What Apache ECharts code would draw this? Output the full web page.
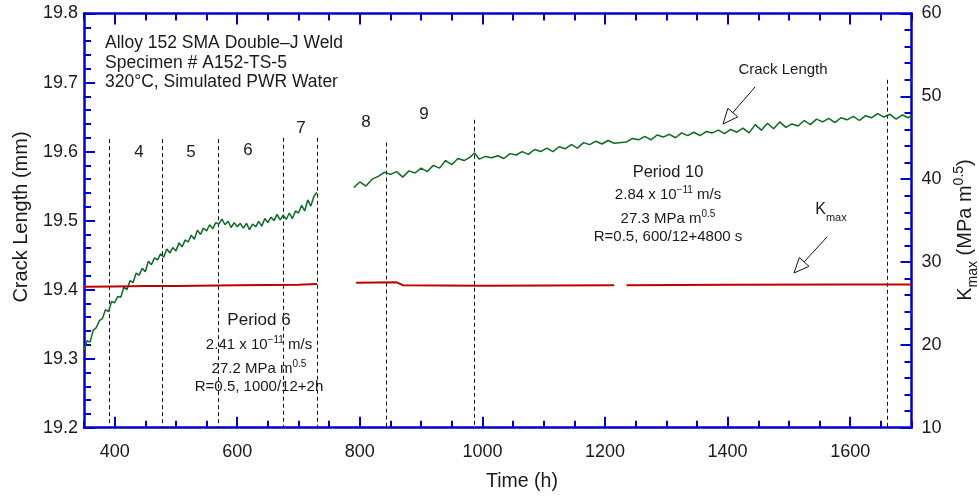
<!DOCTYPE html>
<html><head><meta charset="utf-8">
<script src="https://cdn.jsdelivr.net/npm/echarts@6/dist/echarts.min.js"></script>
<style>html,body{margin:0;padding:0;background:#fff}#c{width:979px;height:497px}</style>
</head><body><div id="c"></div><script>
// ---------- data ----------
const crackTime1 = [350,355,360,365,370,375,380,385,390,395,400,405,410,415,420,425,430,435,440,445,450,455,460,465,470,475,480,485,490,495,500,505,510,515,520,525,530,535,540,545,550,555,560,565,570,575,580,585,590,595,600,605,610,615,620,625,630,635,640,645,650,655,660,665,670,675,680,685,690,695,700,705,710,715,720,725,730];
const crackLen1 = [19.312,19.326,19.324,19.341,19.345,19.355,19.358,19.371,19.368,19.383,19.381,19.390,19.389,19.404,19.400,19.413,19.410,19.424,19.421,19.431,19.426,19.441,19.436,19.446,19.443,19.452,19.447,19.459,19.453,19.461,19.456,19.468,19.462,19.472,19.469,19.479,19.473,19.486,19.480,19.489,19.485,19.494,19.488,19.497,19.495,19.502,19.494,19.499,19.490,19.497,19.491,19.496,19.489,19.496,19.487,19.495,19.491,19.499,19.492,19.503,19.497,19.505,19.500,19.509,19.501,19.508,19.502,19.511,19.503,19.514,19.511,19.522,19.514,19.530,19.521,19.535,19.541];
const crackTime2 = [790,800,810,820,830,840,850,860,870,880,890,900,910,920,930,940,950,960,970,980,987,995,1005,1015,1025,1035,1045,1055,1065,1075,1085,1095,1105,1115,1125,1135,1145,1155,1165,1175,1185,1195,1205,1215,1235,1245,1255,1265,1275,1285,1295,1305,1315,1325,1335,1345,1355,1365,1375,1385,1395,1405,1415,1425,1435,1445,1455,1465,1475,1485,1495,1505,1515,1525,1535,1545,1555,1565,1575,1585,1595,1605,1615,1625,1635,1645,1655,1665,1675,1685,1695,1700];
const crackLen2 = [19.548,19.556,19.550,19.560,19.564,19.570,19.567,19.571,19.563,19.572,19.569,19.576,19.571,19.580,19.576,19.587,19.581,19.590,19.587,19.592,19.598,19.589,19.593,19.591,19.594,19.590,19.597,19.595,19.600,19.596,19.603,19.600,19.605,19.600,19.607,19.604,19.610,19.605,19.613,19.610,19.615,19.611,19.616,19.612,19.614,19.619,19.617,19.622,19.617,19.624,19.621,19.625,19.620,19.627,19.623,19.628,19.623,19.629,19.627,19.631,19.626,19.632,19.628,19.634,19.627,19.639,19.631,19.641,19.633,19.643,19.635,19.640,19.637,19.645,19.639,19.647,19.643,19.648,19.642,19.649,19.646,19.651,19.645,19.652,19.649,19.655,19.650,19.654,19.647,19.653,19.649,19.652];
const kmaxTime1 = [350,400,450,500,600,700,730];
const kmaxVal1  = [27.0,27.05,27.1,27.1,27.2,27.25,27.35];
const kmaxTime2 = [794,860,870,1000,1215];
const kmaxVal2  = [27.5,27.55,27.2,27.15,27.2];
const kmaxTime3 = [1235,1400,1600,1700];
const kmaxVal3  = [27.2,27.25,27.3,27.3];
// period boundary lines: time and top (crack length, mm)
const periodTimes = [391,477,569,675,730,843,986,1661];
const periodTops  = [19.618,19.618,19.618,19.62,19.62,19.613,19.646,19.704];
const xMajorTicks = [400,600,800,1000,1200,1400,1600];

// ---------- build ----------
const zip = (t, v) => t.map((x, i) => [x, v[i]]);
const crackData = zip(crackTime1, crackLen1).concat([[760, null]], zip(crackTime2, crackLen2));
const kmaxData = zip(kmaxTime1, kmaxVal1).concat([[760, null]], zip(kmaxTime2, kmaxVal2), [[1225, null]], zip(kmaxTime3, kmaxVal3));
const periodLines = periodTimes.map((t, i) => [{coord: [t, periodTops[i]]}, {coord: [t, 19.2]}]);

const BLUE = '#0000cc';
const TXT = '#1a1a1a';
const FONT = "'Liberation Sans', Arial, Helvetica, sans-serif";

function text(x, y, str, size, align, rich, rot) {
  const st = {text: str, fontSize: size, fontFamily: FONT, fill: TXT,
              align: align || 'center', verticalAlign: 'middle',
              textAlign: align || 'center', textVerticalAlign: 'middle'};
  if (rich) st.rich = rich;
  const el = {type: 'text', x: x, y: y, style: st, silent: true, z: 100};
  if (rot) el.rotation = rot;
  return el;
}
function richSet(n, s, up, down) {
  return {
    n: {fontSize: n, fontFamily: FONT},
    sup: {fontSize: s, fontFamily: FONT, padding: [0, 0, up, 0]},
    sub: {fontSize: s, fontFamily: FONT, padding: [down || 0, 0, 0, 0]}
  };
}
function arrow(tail, tip) {
  const dx = tip[0] - tail[0], dy = tip[1] - tail[1];
  const L = Math.sqrt(dx * dx + dy * dy), ux = dx / L, uy = dy / L;
  const hl = 15, hw = 6.5;
  const bx = tip[0] - ux * hl, by = tip[1] - uy * hl;
  const nx = -uy, ny = ux;
  return [
    {type: 'line', shape: {x1: tail[0], y1: tail[1], x2: bx, y2: by}, style: {stroke: '#111', lineWidth: 1}, silent: true, z: 100},
    {type: 'polygon', shape: {points: [[tip[0], tip[1]], [bx + nx * hw, by + ny * hw], [bx - nx * hw, by - ny * hw]]},
     style: {fill: '#fff', stroke: '#111', lineWidth: 1}, silent: true, z: 100}
  ];
}

const r15 = richSet(15, 10, 10, 0);
const graphics = [
  text(105, 43, 'Alloy 152 SMA Double\u2013J Weld', 17.5, 'left'),
  text(105, 63, 'Specimen # A152-TS-5', 17.5, 'left'),
  text(105, 82, '320\u00b0C, Simulated PWR Water', 17.5, 'left'),
  text(139, 152, '4', 17), text(191, 152, '5', 17), text(248, 150, '6', 17),
  text(301, 128, '7', 17), text(366, 122, '8', 17), text(424, 114, '9', 17),
  text(259, 320, 'Period 6', 17),
  text(259, 345, '{n|2.41 x 10}{sup|\u221211}{n| m/s}', 15, 'center', r15),
  text(259, 369, '{n|27.2 MPa m}{sup|0.5}', 15, 'center', r15),
  text(259, 387, 'R=0.5, 1000/12+2h', 15),
  text(668, 172, 'Period 10', 16.5),
  text(668, 195, '{n|2.84 x 10}{sup|\u221211}{n| m/s}', 15, 'center', r15),
  text(668, 219, '{n|27.3 MPa m}{sup|0.5}', 15, 'center', r15),
  text(668, 237, 'R=0.5, 600/12+4800 s', 15),
  text(783, 70, 'Crack Length', 15),
  text(831, 210, '{n|K}{sub|max}', 16, 'center', richSet(16, 11, 0, 15)),
  text(21, 217, 'Crack Length (mm)', 20, 'center', null, Math.PI / 2),
  text(522, 482, 'Time (h)', 19.5),
  text(965, 230, '{n|K}{sub|max}{n| (MPa m}{sup|0.5}{n|)}', 20, 'center', richSet(20, 14, 12, 16), Math.PI / 2)
].concat(arrow([755, 87], [723, 124]), arrow([827, 237], [794, 273]));

const tickLine = {color: BLUE, width: 2};
const chart = echarts.init(document.getElementById('c'), null, {renderer: 'canvas'});
chart.setOption({
  animation: false,
  backgroundColor: '#fff',
  grid: {left: 84, right: 67.5, top: 13.5, bottom: 69.3, containLabel: false, outerBoundsMode: 'none'},
  xAxis: [
    {type: 'value', position: 'bottom', min: 350, max: 1700, interval: 50,
     axisLine: {show: true, onZero: false, lineStyle: {color: BLUE, width: 2.5}},
     axisTick: {show: true, inside: true, length: 7, lineStyle: tickLine},
     axisLabel: {formatter: v => (v % 200 === 0 ? String(v) : ''), color: TXT, fontSize: 18, fontFamily: FONT, margin: 15, hideOverlap: false},
     splitLine: {show: false}},
    {type: 'value', position: 'bottom', min: 350, max: 1700,
     axisLine: {show: false, onZero: false},
     axisTick: {show: true, inside: true, length: 11, customValues: xMajorTicks, lineStyle: tickLine},
     axisLabel: {show: false}, splitLine: {show: false}},
    {type: 'value', position: 'top', min: 350, max: 1700, interval: 50,
     axisLine: {show: true, onZero: false, lineStyle: {color: BLUE, width: 2.5}},
     axisTick: {show: true, inside: true, length: 7, lineStyle: tickLine},
     axisLabel: {show: false}, splitLine: {show: false}},
    {type: 'value', position: 'top', min: 350, max: 1700,
     axisLine: {show: false, onZero: false},
     axisTick: {show: true, inside: true, length: 11, customValues: xMajorTicks, lineStyle: tickLine},
     axisLabel: {show: false}, splitLine: {show: false}}
  ],
  yAxis: [
    {type: 'value', position: 'left', min: 19.2, max: 19.8, interval: 0.1,
     axisLine: {show: true, onZero: false, lineStyle: {color: BLUE, width: 2.5}},
     axisTick: {show: true, inside: true, length: 11, lineStyle: tickLine},
     minorTick: {show: true, splitNumber: 5, length: 7, lineStyle: tickLine},
     axisLabel: {formatter: v => v.toFixed(1), color: TXT, fontSize: 18, fontFamily: FONT, margin: 6},
     splitLine: {show: false}, minorSplitLine: {show: false}},
    {type: 'value', position: 'right', min: 10, max: 60, interval: 10,
     axisLine: {show: true, onZero: false, lineStyle: {color: BLUE, width: 2.5}},
     axisTick: {show: true, inside: true, length: 11, lineStyle: tickLine},
     minorTick: {show: true, splitNumber: 5, length: 7, lineStyle: tickLine},
     axisLabel: {formatter: v => String(Math.round(v)), color: TXT, fontSize: 18, fontFamily: FONT, margin: 10},
     splitLine: {show: false}, minorSplitLine: {show: false}}
  ],
  series: [
    {type: 'line', xAxisIndex: 0, yAxisIndex: 0, data: crackData, symbol: 'none', showSymbol: false,
     connectNulls: false, lineStyle: {color: '#0c6a22', width: 1.5}, z: 3, silent: true,
     markLine: {silent: true, symbol: ['none', 'none'], label: {show: false},
                lineStyle: {color: '#111', width: 1, type: [4, 3]}, data: periodLines, z: 2}},
    {type: 'line', xAxisIndex: 0, yAxisIndex: 1, data: kmaxData, symbol: 'none', showSymbol: false,
     connectNulls: false, lineStyle: {color: '#c00000', width: 2}, z: 4, silent: true}
  ],
  graphic: graphics
});
</script></body></html>
